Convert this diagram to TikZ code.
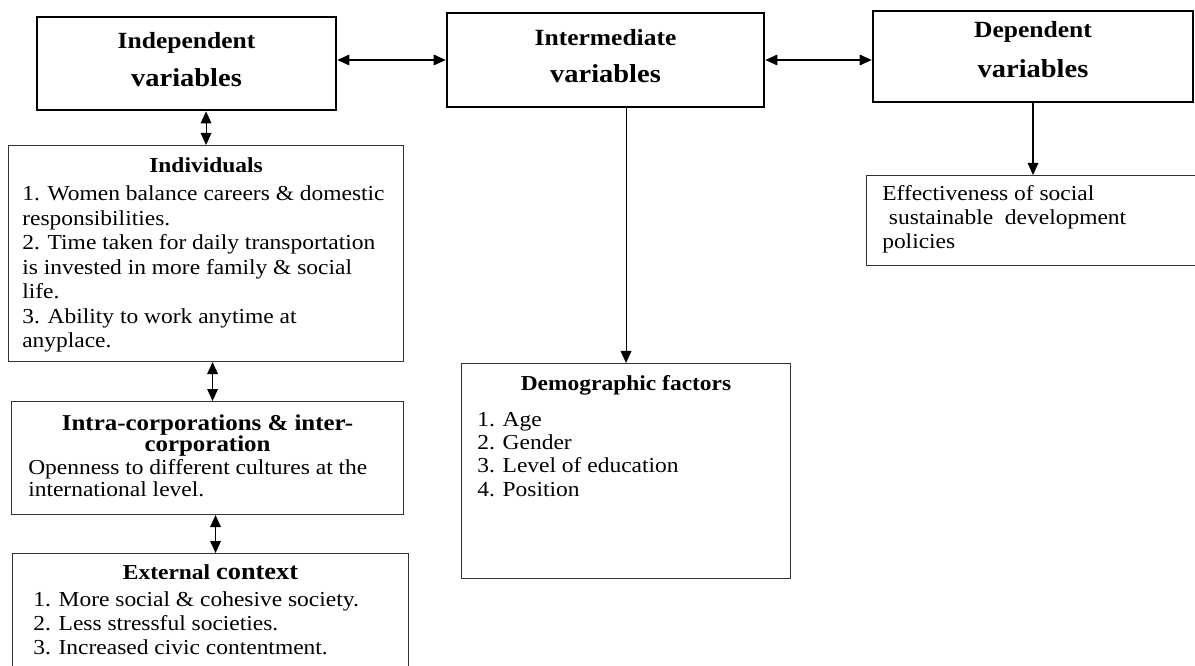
\documentclass[tikz,border=0pt]{standalone}
\usepackage{fontspec}
\setmainfont{Liberation Serif}[FakeStretch=1.1]
\usetikzlibrary{arrows.meta,positioning,calc}
\tikzset{
  varbox/.style={draw, line width=2pt, inner sep=0pt, align=center,
    font=\fontsize{17.4}{20}\selectfont\bfseries},
  factorbox/.style={draw=black!80, line width=0.8pt, inner sep=0pt, anchor=north west},
  headtext/.style={inner sep=0pt, align=center, font=\fontsize{16}{16}\selectfont\bfseries},
  itemtext/.style={inner sep=0pt, align=left, font=\fontsize{16}{18}\selectfont},
  flow/.style={-{Triangle[length=9pt,width=8pt]}, line width=0.8pt},
  biflow/.style={{Triangle[length=9pt,width=8pt]}-{Triangle[length=9pt,width=8pt]}, line width=0.8pt}
}
\newcommand{\bigvar}{\fontsize{19.4}{20}\selectfont variables}

\begin{document}
\begin{tikzpicture}[x=0.75pt,y=-0.75pt]
\useasboundingbox (0,0) rectangle (1195,666);

% variable boxes
\node[varbox, minimum width=224.25pt, minimum height=69.75pt] (indep) at (186.5,63.5)
{Independent\\[8pt]\bigvar\\[-14pt]\mbox{}};
\node[varbox, minimum width=237.75pt, minimum height=70.5pt] (inter) at (605.5,60)
{Intermediate\\[8pt]\bigvar\\[-14pt]\mbox{}};
\node[varbox, minimum width=240pt, minimum height=68.25pt] (depend) at (1033,56.5)
{Dependent\\[10pt]\bigvar\\[-10pt]\mbox{}};

% independent factors
\node[factorbox, minimum width=296.25pt, minimum height=162pt] (indiv) at (8,145) {};
\node[headtext, below=9pt of indiv.north] (indivhead) {Individuals};
\node[itemtext, font=\fontsize{16}{18.4}\selectfont, below right=30.5pt and 10.5pt of indiv.north west] (indivlist)
{1. Women balance careers \& domestic\\
responsibilities.\\
2. Time taken for daily transportation\\
is invested in more family \& social\\
life.\\
3. Ability to work anytime at\\
anyplace.};

\node[factorbox, minimum width=294pt, minimum height=84.75pt] (intra) at (11,401) {};
\node[headtext, font=\fontsize{17}{15.75}\selectfont\bfseries, below=10pt of intra.north] (intrahead)
{Intra-corporations \& inter-\\corporation};
\node[itemtext, font=\fontsize{16}{16.5}\selectfont, below right=43.5pt and 12.75pt of intra.north west] (intralist)
{Openness to different cultures at the\\
international level.};

\node[factorbox, minimum width=297pt, minimum height=112.5pt] (ext) at (12,553) {};
\node[headtext, below=8.5pt of ext.north] (exthead)
{External {\fontsize{18}{16}\selectfont context}};
\node[itemtext, below right=29pt and 15.75pt of ext.north west] (extlist)
{1. More social \& cohesive society.\\
2. Less stressful societies.\\
3. Increased civic contentment.};

% intermediate factors
\node[factorbox, minimum width=246.75pt, minimum height=161.25pt] (demo) at (461,363) {};
\node[headtext, below=9pt of demo.north] (demohead) {Demographic factors};
\node[itemtext, font=\fontsize{16}{17.5}\selectfont, below right=36.5pt and 12pt of demo.north west] (demolist)
{1. Age\\
2. Gender\\
3. Level of education\\
4. Position};

% dependent factors
\node[factorbox, minimum width=249pt, minimum height=67.5pt] (effect) at (866,175) {};
\node[itemtext, below right=7.5pt and 12pt of effect.north west] (effectlist)
{Effectiveness of social\\
\hspace{5pt}sustainable\ \ development\\
policies};

% connectors
\draw[biflow] (indep.east |- inter.west) -- (inter.west);
\draw[biflow] (inter.east) -- (inter.east -| depend.west);
\draw[biflow] (indiv.north |- indep.south) -- (indiv.north);
\draw[biflow] ([xshift=4.9pt]indiv.south) -- ([xshift=4.9pt]indiv.south |- intra.north);
\draw[biflow] ([xshift=6pt]intra.south) -- ([xshift=6pt]intra.south |- ext.north);
\draw[flow] (demo.north |- inter.south) -- (demo.north);
\draw[flow] (depend.south) -- (depend.south |- effect.north);
\end{tikzpicture}
\end{document}
